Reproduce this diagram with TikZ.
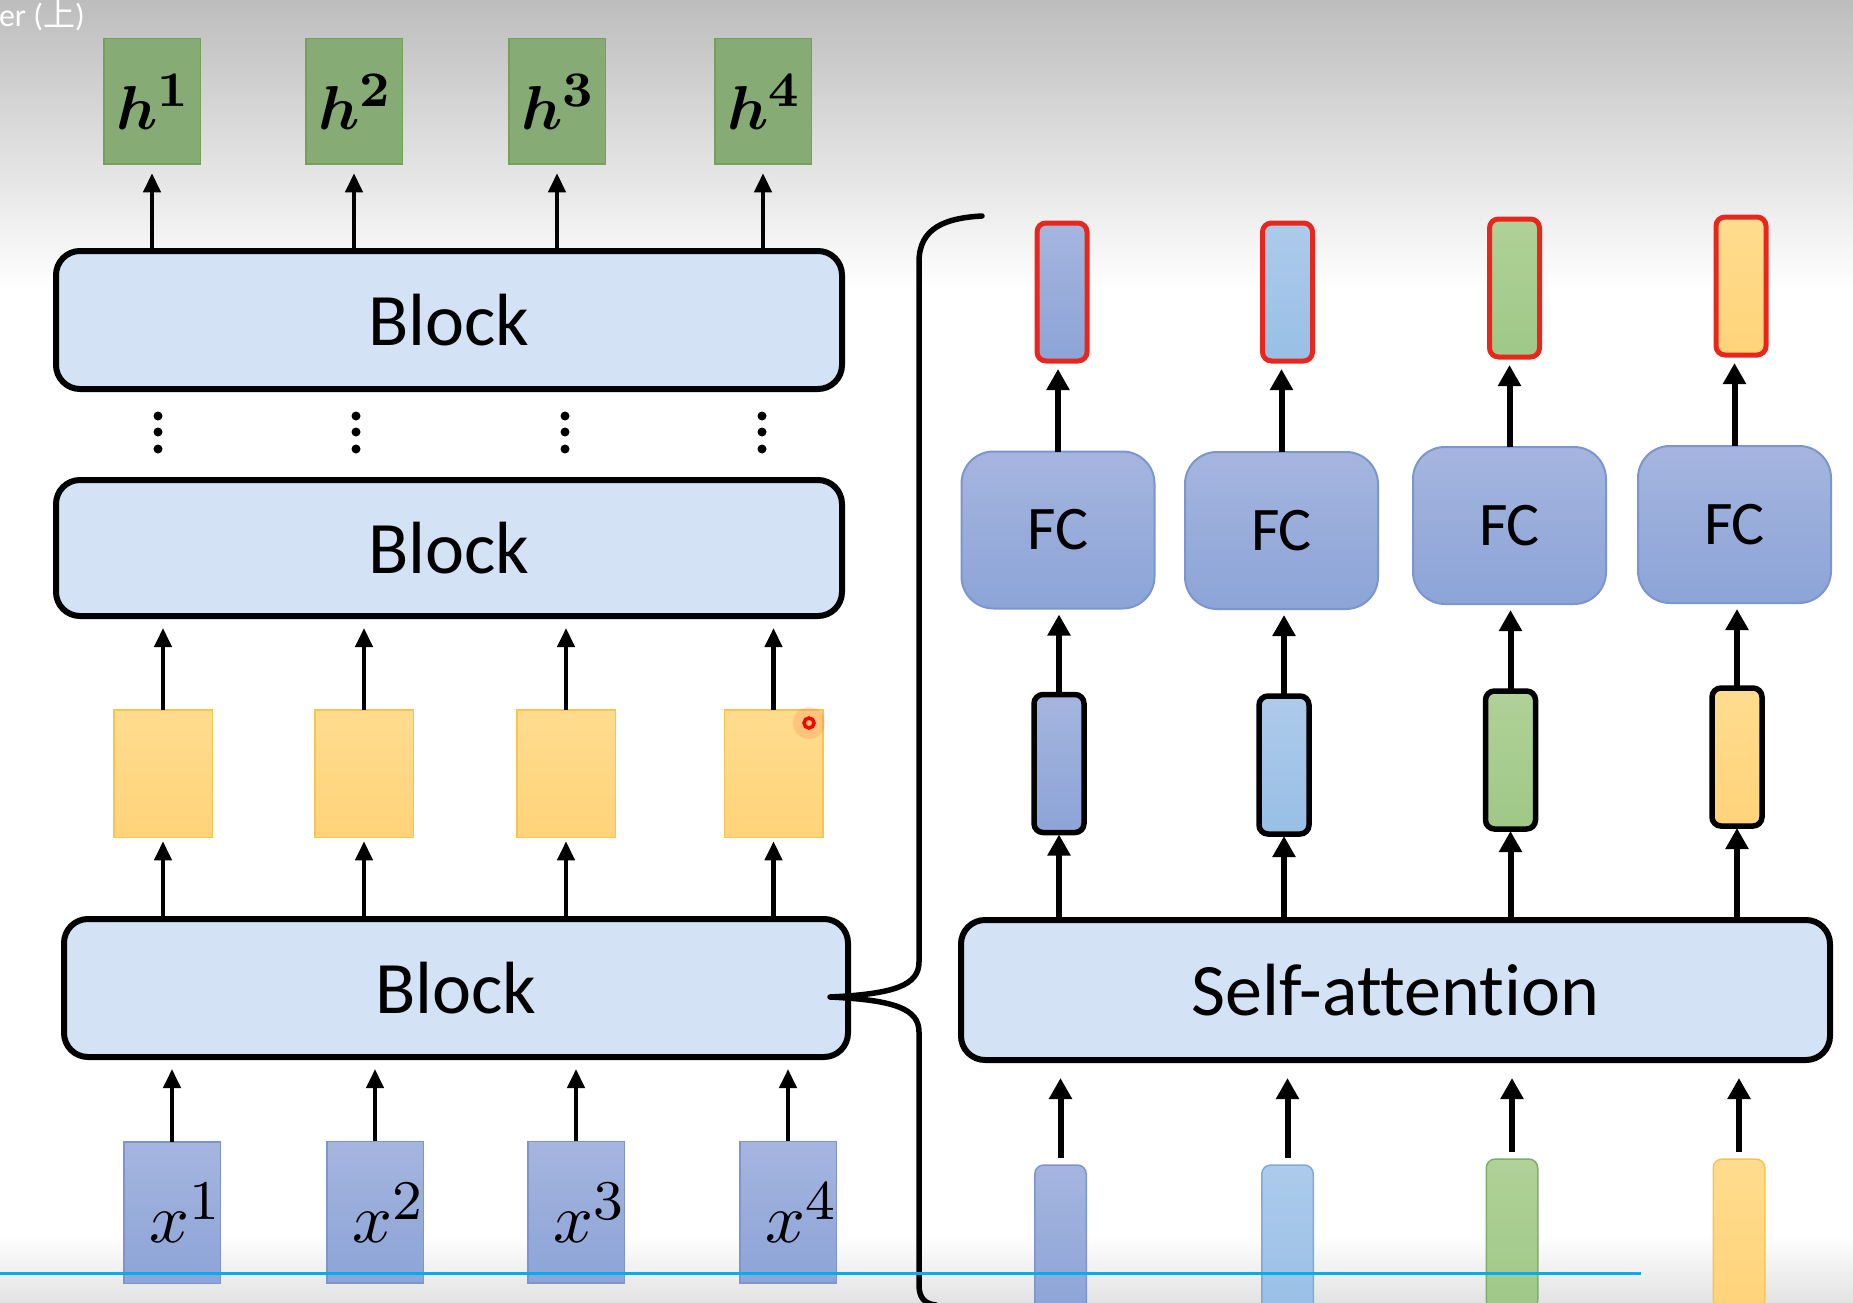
\documentclass[tikz,border=0pt]{standalone}
\usepackage{fontspec}
\usepackage{amsmath}
\usepackage{graphicx}
\newfontfamily\carlito[Ligatures=NoCommon]{Carlito}
\newfontfamily\cjk{Noto Sans CJK SC}
\usetikzlibrary{arrows.meta,calc}
\definecolor{bgtop}{HTML}{BDBDBD}
\definecolor{bgbot}{HTML}{E2E2E2}
\definecolor{blockfill}{HTML}{D3E2F4}
\definecolor{hfill}{HTML}{86AB74}
\definecolor{hdraw}{HTML}{74A05C}
\definecolor{yfilltop}{HTML}{FFDC8E}
\definecolor{yfillbot}{HTML}{FFD37A}
\definecolor{ydraw}{HTML}{F6C54E}
\definecolor{bptop}{HTML}{A5B5DF}
\definecolor{bpbot}{HTML}{8CA4D7}
\definecolor{bpdraw}{HTML}{7C96CD}
\definecolor{lbtop}{HTML}{ADCBEB}
\definecolor{lbbot}{HTML}{98BFE5}
\definecolor{lbdraw}{HTML}{7EA9D8}
\definecolor{grtop}{HTML}{B0D198}
\definecolor{grbot}{HTML}{9FC887}
\definecolor{grdraw}{HTML}{7FAF66}
\definecolor{redb}{HTML}{E8261B}
\definecolor{progress}{HTML}{00AEEF}
\newcommand{\hlab}[1]{\scalebox{6.2}{$\boldsymbol{h}$\raisebox{3.7pt}{\fontsize{8}{8}\selectfont\bfseries #1}}}
\newcommand{\xlab}[1]{\hspace*{24pt}\scalebox{7}{$x$\raisebox{3.3pt}{\fontsize{8}{8}\selectfont #1}}}
\begin{document}
\begin{tikzpicture}[x=1pt,y=-1pt,
  every node/.style={inner sep=0pt, outer sep=0pt},
  blockbox/.style={draw=black, line width=6pt, rounded corners=24pt, fill=blockfill,
    font=\carlito\fontsize{74}{80}\selectfont},
  hnode/.style={draw=hdraw, line width=1.5pt, fill=hfill, minimum width=96.5pt, minimum height=125.5pt},
  ynode/.style={draw=ydraw, line width=1.5pt, top color=yfilltop, bottom color=yfillbot,
    minimum width=98.5pt, minimum height=127.5pt},
  xnode/.style={draw=bpdraw, line width=1.5pt, top color=bptop, bottom color=bpbot,
    minimum width=96.5pt, minimum height=141.5pt},
  fcnode/.style={draw=bpdraw, line width=2pt, rounded corners=32pt, top color=bptop, bottom color=bpbot,
    minimum width=193pt, minimum height=157pt, font=\carlito\fontsize{62}{70}\selectfont},
  vecnode/.style={rounded corners=9pt, minimum width=50pt, minimum height=138pt},
  midvec/.style={vecnode, draw=black, line width=5.5pt},
  outvec/.style={vecnode, draw=redb, line width=5pt},
  invec/.style={vecnode, line width=1.5pt, minimum width=51.5pt, minimum height=150pt},
  cbp/.style={top color=bptop, bottom color=bpbot},
  clb/.style={top color=lbtop, bottom color=lbbot},
  cgr/.style={top color=grtop, bottom color=grbot},
  cye/.style={top color=yfilltop, bottom color=yfillbot},
  larr/.style={line width=4.5pt, -{Triangle[width=17pt,length=19pt]}},
  rarr/.style={line width=6pt, -{Triangle[width=22pt,length=21pt]}},
  dotmark/.style={circle, fill=black, minimum size=9pt},
  bracepath/.style={line width=5.5pt, line cap=round, line join=round},
]
\useasboundingbox (0,0) rectangle (1853,1303);
% background
\fill[white] (0,0) rectangle (1853,1303);
\shade[top color=bgtop, bottom color=white] (0,0) rectangle (1853,290);
\shade[top color=white, bottom color=bgbot] (0,1235) rectangle (1853,1303);
\node[anchor=base west, text=white, font=\carlito\fontsize{32}{36}\selectfont] (title) at (-1,27) {er ({\cjk 上})};

% ---------- left stack ----------
\node[hnode] (h1) at (152,101.5) {\hlab{1}};
\node[hnode] (h2) at (354,101.5) {\hlab{2}};
\node[hnode] (h3) at (557,101.5) {\hlab{3}};
\node[hnode] (h4) at (763,101.5) {\hlab{4}};

\node[blockbox, minimum width=786pt, minimum height=138pt] (blk3) at (449,320) {Block};
\node[blockbox, minimum width=786pt, minimum height=136pt] (blk2) at (449,548) {Block};
\node[blockbox, minimum width=784pt, minimum height=138pt] (blk1) at (456,988) {Block};

\foreach \xx/\n in {158/1,356/2,565/3,762/4}
  \foreach \yy/\m in {416/a,432/b,449/c}
    \node[dotmark] (dot\n\m) at (\xx,\yy) {};

\node[ynode] (y1) at (163,773.5) {};
\node[ynode] (y2) at (364,773.5) {};
\node[ynode] (y3) at (566,773.5) {};
\node[ynode] (y4) at (773.5,773.5) {};

\node[xnode] (x1) at (172,1212.5) {\xlab{1}};
\node[xnode] (x2) at (375,1212) {\xlab{2}};
\node[xnode] (x3) at (576,1212) {\xlab{3}};
\node[xnode] (x4) at (788,1212) {\xlab{4}};

\foreach \i in {1,2,3,4} {
  \draw[larr, shorten >=9pt] (h\i.south |- blk3.north) -- (h\i.south);
  \draw[larr, shorten >=12pt] (y\i.north) -- (y\i.north |- blk2.south);
  \draw[larr, shorten >=4pt] (y\i.south |- blk1.north) -- (y\i.south);
  \draw[larr, shorten >=12pt] (x\i.north) -- (x\i.north |- blk1.south);
}

% ---------- right detail ----------
\node[blockbox, minimum width=869pt, minimum height=140pt] (sa) at (1395.5,990) {Self-attention};

\node[fcnode] (fc1) at (1058,530) {FC};
\node[fcnode] (fc2) at (1281.5,530.5) {FC};
\node[fcnode] (fc3) at (1509.5,525.5) {FC};
\node[fcnode] (fc4) at (1734.5,524.5) {FC};

\node[outvec, cbp] (o1) at (1062,292) {};
\node[outvec, clb] (o2) at (1287.5,292) {};
\node[outvec, cgr] (o3) at (1514.5,288) {};
\node[outvec, cye] (o4) at (1741,286) {};

\node[midvec, cbp] (m1) at (1059,763.5) {};
\node[midvec, clb] (m2) at (1284,765) {};
\node[midvec, cgr] (m3) at (1510.5,760) {};
\node[midvec, cye] (m4) at (1737,757) {};

\node[invec, cbp, draw=bpdraw] (in1) at (1060.5,1240) {};
\node[invec, clb, draw=lbdraw] (in2) at (1287.5,1240) {};
\node[invec, cgr, draw=grdraw] (in3) at (1512,1234) {};
\node[invec, cye, draw=ydraw] (in4) at (1739,1234) {};

\foreach \i in {1,2,3,4} {
  \draw[rarr, shorten <=7pt, shorten >=18pt] (in\i.north) -- (in\i.north |- sa.south);
  \draw[rarr, shorten >=2pt] (m\i.south |- sa.north) -- (m\i.south);
  \draw[rarr, shorten <=2pt, shorten >=6pt] (m\i.north) -- (m\i.north |- fc\i.south);
  \draw[rarr, shorten >=8pt] (fc\i.north) -- (fc\i.north |- o\i.south);
}

% ---------- brace ----------
\coordinate (btop) at (982,216);
\coordinate (btip) at ([xshift=-18pt, yshift=-9pt]blk1.east);
\draw[bracepath] (btop) .. controls (945,218) and (919,228) .. (919,262)
  -- (919,962) .. controls (919,985) and (895,994) .. (btip)
  .. controls (895,1000) and (919,1009) .. (919,1032)
  -- (919,1285) .. controls (919,1298) and (925,1304) .. (936,1305);

% ---------- overlays ----------
\fill[red, opacity=0.10] (809,723) circle (16pt);
\node[circle, draw=red, line width=3.5pt, minimum size=10pt] (ptr) at (809,723) {};
\coordinate (pbl) at (0,1273);
\coordinate (pbr) at (1641,1273);
\draw[progress, line width=3pt] (pbl) -- (pbr);
\end{tikzpicture}
\end{document}
